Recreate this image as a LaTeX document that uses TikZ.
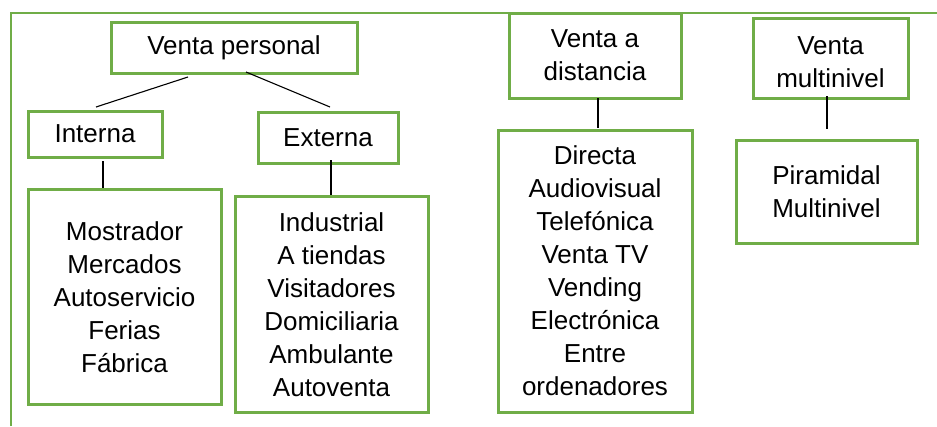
\documentclass[tikz,border=0pt]{standalone}
\usepackage{fontspec}
\setmainfont{Liberation Sans}
\definecolor{boxgreen}{HTML}{70AD47}
\begin{document}
\begin{tikzpicture}[x=1pt,y=-1pt,
  gbox/.style={draw=boxgreen,line width=3pt,inner sep=0pt,align=center,
    font=\fontsize{26}{33}\selectfont,anchor=center},
  gtext/.style={inner sep=0pt,align=center,font=\fontsize{26}{33}\selectfont,anchor=center},
  conn/.style={draw=black,line width=1.1pt},
  frame/.style={draw=boxgreen,line width=2.2pt}]
\useasboundingbox (0,0) rectangle (937,426);
\draw[frame] (11,426) -- (11,13) -- (937,13);
% boxes
\node[gbox,minimum width=246,minimum height=51] (vp) at (234,47.5) {Venta personal};
\node[gbox,minimum width=134,minimum height=46] (in) at (95,134) {Interna};
\node[gbox,minimum width=140,minimum height=51] (ex) at (328,137.5) {Externa};
\node[gbox,minimum width=193,minimum height=215] (mo) at (124.5,297) {Mostrador\\Mercados\\Autoservicio\\Ferias\\Fábrica};
\node[gbox,minimum width=193,minimum height=216] (ind) at (331.5,304.5) {Industrial\\A tiendas\\Visitadores\\Domiciliaria\\Ambulante\\Autoventa};
\node[gbox,minimum width=172,minimum height=85] (vd) at (595,55.5) {Venta a\\distancia};
\node[gbox,minimum width=194,minimum height=282] (di) at (595,271) {Directa\\Audiovisual\\Telefónica\\Venta TV\\Vending\\Electrónica\\Entre\\ordenadores};
\node[gbox,minimum width=155,minimum height=80] (vm) at (830.5,58) {};
\node[gtext] (vmt) at (830.5,62) {Venta\\multinivel};
\node[gbox,minimum width=181,minimum height=103] (pi) at (826.5,191.5) {Piramidal\\Multinivel};
% connector end points
\coordinate (vpL) at (188,77);
\coordinate (inT) at (96,107);
\coordinate (vpR) at (246,72);
\coordinate (exT) at (330,107);
\coordinate (inB) at (103,161);
\coordinate (moT) at (103,188);
\coordinate (exB) at (331,160);
\coordinate (indT) at (331,195);
\coordinate (vdB) at (598,98);
\coordinate (diT) at (598,128);
\coordinate (vmB) at (827,96);
\coordinate (piT) at (827,129);
\draw[conn] (vpL) -- (inT);
\draw[conn] (vpR) -- (exT);
\draw[conn] (inB) -- (moT);
\draw[conn] (exB) -- (indT);
\draw[conn] (vdB) -- (diT);
\draw[conn] (vmB) -- (piT);
\end{tikzpicture}
\end{document}
